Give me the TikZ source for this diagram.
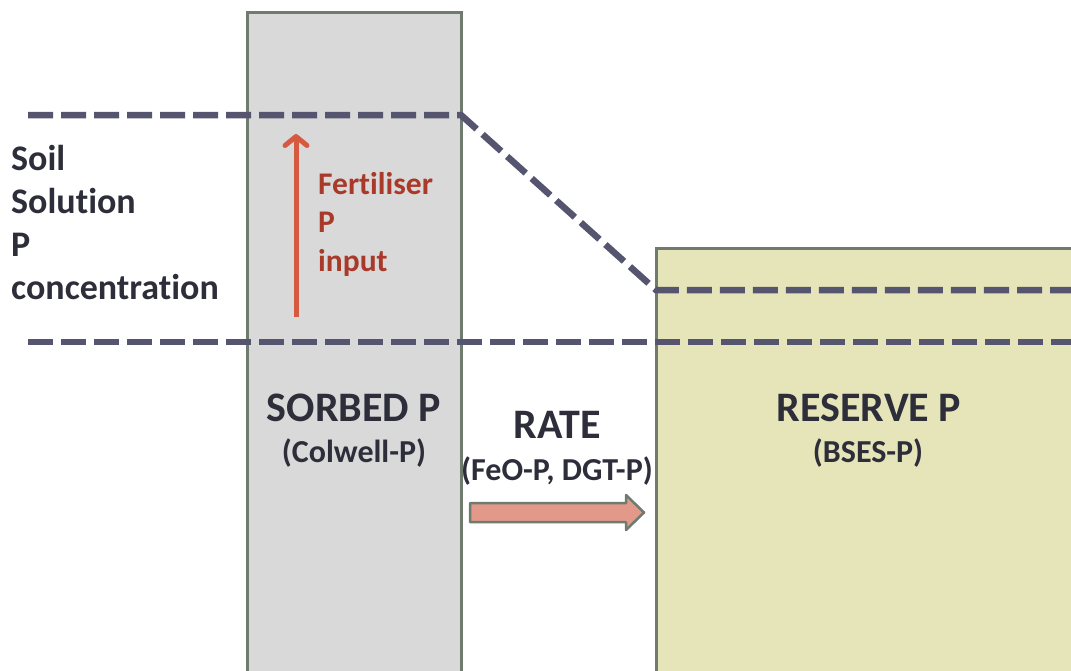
\documentclass[tikz,border=0pt]{standalone}
\usepackage{fontspec}
\setmainfont{Carlito}[Ligatures=NoCommon]
\usetikzlibrary{arrows.meta}
\definecolor{dashc}{HTML}{555570}
\definecolor{boxborder}{HTML}{6E7B6E}
\definecolor{sorbedfill}{HTML}{D9D9D9}
\definecolor{reservefill}{HTML}{E6E4B9}
\definecolor{redline}{HTML}{D65A3F}
\definecolor{redtext}{HTML}{A93A2A}
\definecolor{salmon}{HTML}{E3998A}
\definecolor{txt}{HTML}{2E2E3A}
\tikzset{
  pool/.style={draw=boxborder, line width=3pt},
  level/.style={draw=dashc, line width=6.5pt, dash pattern=on 25pt off 8pt},
  bigtxt/.style={font=\bfseries\fontsize{42}{46}\selectfont, text=txt, inner sep=0pt},
  smalltxt/.style={font=\bfseries\fontsize{32}{36}\selectfont, text=txt, inner sep=0pt},
  lefttxt/.style={font=\bfseries\fontsize{36}{43}\selectfont, text=txt, align=left, inner sep=0pt, anchor=north west},
  fertxt/.style={font=\bfseries\fontsize{31.5}{38.5}\selectfont, text=redtext, align=left, inner sep=0pt, anchor=north west},
  blockarrow/.style={draw=boxborder, fill=salmon, line width=2.5pt, line join=round},
}
\begin{document}
\begin{tikzpicture}[x=1pt,y=-1pt]
\useasboundingbox (0,0) rectangle (1071,670);
\begin{scope}
\clip (0,0) rectangle (1071,670);
\draw[pool, fill=sorbedfill] (247,12) rectangle (461,690);
\draw[pool, fill=reservefill] (656,248) rectangle (1090,690);
\coordinate (t0) at (28,115);
\coordinate (t1) at (461,115);
\coordinate (t2) at (656,290);
\coordinate (t3) at (1075,290);
\coordinate (b0) at (28,342);
\coordinate (b1) at (1075,342);
\draw[level] (t0) -- (t1) -- (t2) -- (t3);
\draw[level] (b0) -- (b1);
\end{scope}
\coordinate (fa) at (296,317);
\coordinate (fb) at (296,134);
\draw[redline, line width=5pt, -{Straight Barb[length=9pt,width=22pt,round]}] (fa) -- (fb);
\node[fertxt] (fert) at (318,172) {Fertiliser\\P\\input};
\node[lefttxt] (soil) at (11,145) {Soil\\Solution\\P\\concentration};
\node[bigtxt] (sorbed) at (354,408) {SORBED P};
\node[smalltxt] (colwell) at (354,453) {(Colwell-P)};
\node[bigtxt] (rate) at (557,425) {RATE};
\node[smalltxt] (feo) at (557,471) {(FeO-P, DGT-P)};
\node[bigtxt] (reserve) at (869,408) {RESERVE P};
\node[smalltxt] (bses) at (868,453) {(BSES-P)};
\draw[blockarrow] (470,503) -- (626,503) -- (626,495) -- (644,512.5)
  -- (626,530) -- (626,522) -- (470,522) -- cycle;
\end{tikzpicture}
\end{document}
